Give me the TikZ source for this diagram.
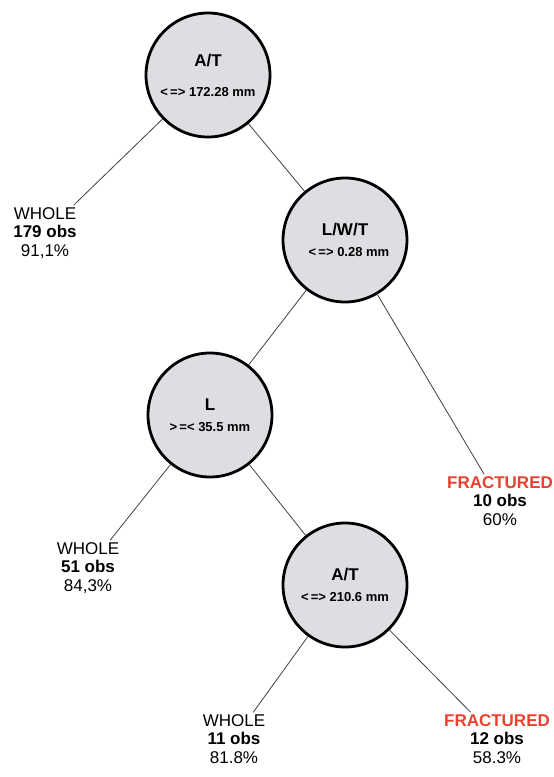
\documentclass[tikz,border=0pt]{standalone}
\usepackage{fontspec}
\setmainfont{Liberation Sans}
\definecolor{splitgray}{RGB}{221,222,226}
\definecolor{fracred}{RGB}{232,66,46}
\tikzset{
  split/.style={circle,draw,line width=2.8pt,fill=splitgray,minimum size=124pt,
    inner sep=0pt,align=center,font=\bfseries\fontsize{17}{18}\selectfont},
  leaf/.style={align=center,inner sep=2pt,font=\fontsize{17}{18}\selectfont},
  branch/.style={draw=black!75,line width=0.8pt}
}
\newcommand{\cut}[1]{{\fontsize{13}{15}\selectfont #1}}
\begin{document}
\begin{tikzpicture}[x=1pt,y=-1pt]
  \useasboundingbox (0,0) rectangle (554,777);
  % split nodes
  \node[split] (at1) at (208,75)  {A/T\\[12pt]\cut{<\,=> 172.28 mm}};
  \node[split] (lwt) at (345,240) {L/W/T\\[3pt]\cut{\hspace{8pt}<\,=> 0.28 mm}};
  \node[split] (l)   at (210,415) {L\\[3pt]\cut{>\,=< 35.5 mm}};
  \node[split] (at2) at (345,585) {A/T\\[3pt]\cut{<\,=> 210.6 mm}};
  % leaves
  \node[leaf] (w179) at (45,233)  {WHOLE\\\textbf{179 obs}\\[1pt]91,1\%};
  \node[leaf] (f10)  at (500,501) {\textcolor{fracred}{\textbf{FRACTURED}}\\\textbf{10 obs}\\[1pt]60\%};
  \node[leaf] (w51)  at (88,568)  {WHOLE\\\textbf{51 obs}\\[1pt]84,3\%};
  \node[leaf] (w11)  at (234,739) {WHOLE\\\textbf{11 obs}\\[1pt]81.8\%};
  \node[leaf] (f12)  at (497,739) {\textcolor{fracred}{\textbf{FRACTURED}}\\\textbf{12 obs}\\[1pt]58.3\%};
  % branches
  \draw[branch] (at1) -- (w179);
  \draw[branch] (at1) -- (lwt);
  \draw[branch] (lwt) -- (l);
  \draw[branch] (lwt) -- (f10);
  \draw[branch] (l) -- (w51);
  \draw[branch] (l) -- (at2);
  \draw[branch] (at2) -- (w11);
  \draw[branch] (at2) -- (f12);
\end{tikzpicture}
\end{document}
